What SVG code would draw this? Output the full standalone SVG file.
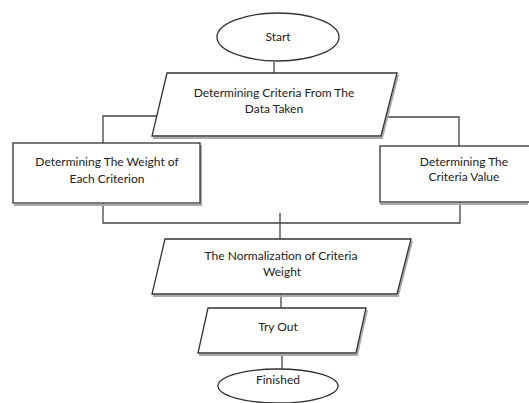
<svg xmlns="http://www.w3.org/2000/svg" width="529" height="403" viewBox="0 0 529 403">
<style>
.s{fill:#fff;stroke:#333;stroke-width:1.3}
.sh{fill:none;stroke:#aaa;stroke-width:2}
.c{fill:none;stroke:#444;stroke-width:1.3}
text{font-family:Lato,"Open Sans",sans-serif;font-size:12px;fill:#222;text-anchor:middle}
</style>
<rect width="529" height="403" fill="#fff"/>
<g id="connectors">
<path class="c" d="M274,62V73"/>
<path class="c" d="M157,116H103V143"/>
<path class="c" d="M386,117H459V146"/>
<path class="c" d="M103,203V223H460V202"/>
<path class="c" d="M280,213V239"/>
<path class="c" d="M281,294V308"/>
<path class="c" d="M282,353V370"/>
</g>
<g id="start">
<ellipse class="s" cx="278" cy="37" rx="61" ry="24"/>
<text x="278" y="41">Start</text>
</g>
<g id="criteria">
<path class="sh" d="M398,75L382,138H153"/>
<path class="s" d="M167,73H397L381,136H152Z"/>
<text x="274" y="97">Determining Criteria From The</text>
<text x="274" y="113">Data Taken</text>
</g>
<g id="weight">
<path class="sh" d="M201,145V205H14"/>
<rect class="s" x="13" y="143" width="187" height="60"/>
<text x="107" y="166">Determining The Weight of</text>
<text x="107" y="183">Each Criterion</text>
</g>
<g id="value">
<path class="sh" d="M380,204H528"/>
<rect class="s" x="380" y="146" width="150" height="56"/>
<text x="464" y="166">Determining The</text>
<text x="464" y="181">Criteria Value</text>
</g>
<g id="normalization">
<path class="sh" d="M412,241L398,296H153"/>
<path class="s" d="M165,239H411L397,294H152Z"/>
<text x="281" y="260">The Normalization of Criteria</text>
<text x="282" y="276">Weight</text>
</g>
<g id="tryout">
<path class="sh" d="M367,310L357,355H199"/>
<path class="s" d="M208,308H366L356,353H198Z"/>
<text x="278" y="331">Try Out</text>
</g>
<g id="finished">
<ellipse class="s" cx="278" cy="386" rx="60" ry="17"/>
<text x="278" y="384">Finished</text>
</g>
</svg>
